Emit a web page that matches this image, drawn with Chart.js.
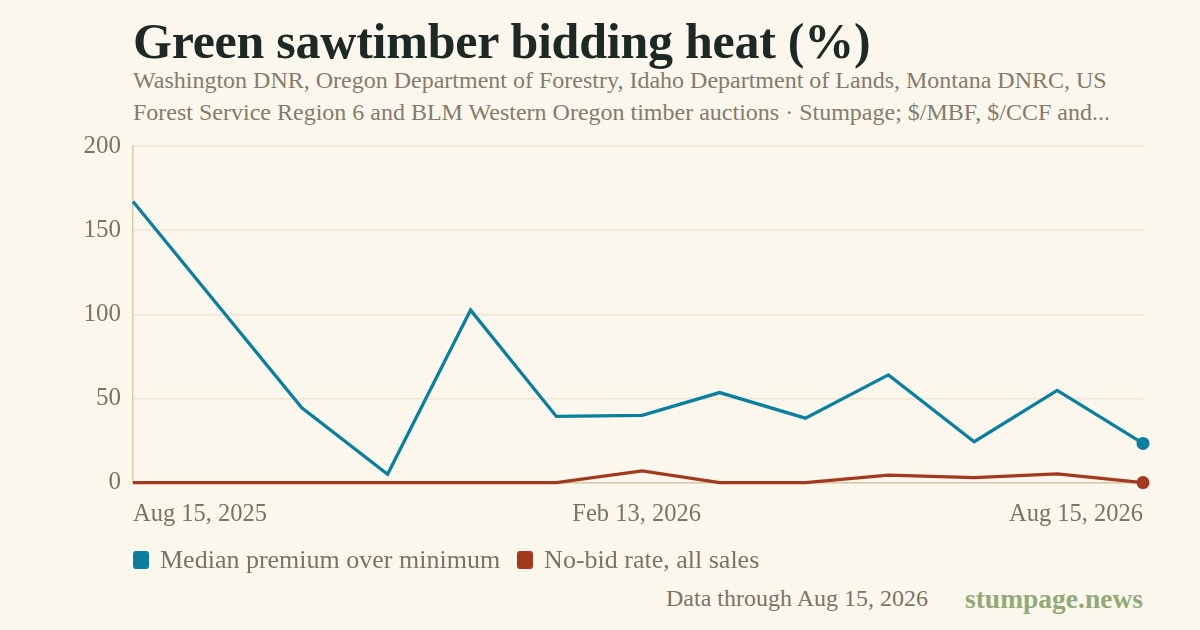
<!DOCTYPE html>
<html><head><meta charset="utf-8">
<script src="https://cdn.jsdelivr.net/npm/chart.js@4.4.1/dist/chart.umd.min.js"></script>
<style>
html,body{margin:0;padding:0;background:#fbf7ed;}
body{width:1200px;height:630px;position:relative;overflow:hidden;font-family:"Liberation Serif",serif;}
#title{position:absolute;left:133px;top:12px;font-size:50px;font-weight:bold;color:#1d2924;white-space:nowrap;letter-spacing:-0.25px;}
#sub{position:absolute;left:133px;top:64px;font-size:24px;line-height:32px;color:#857b6b;width:1000px;}
#wrap{position:absolute;left:0;top:119px;width:1200px;height:431px;}
#legend{position:absolute;left:133px;top:545px;display:flex;align-items:center;font-size:26px;color:#7d7363;white-space:nowrap;}
.item{display:flex;align-items:center;margin-right:17px;}
.sw{width:16px;height:18px;border-radius:3px;margin-right:11px;}
#foot1{position:absolute;right:272px;top:585px;font-size:24px;color:#7d7363;white-space:nowrap;}
#foot2{position:absolute;right:57px;top:583px;font-size:27.5px;font-weight:bold;color:#93aa78;white-space:nowrap;}
</style></head><body>
<div id="title">Green sawtimber bidding heat (%)</div>
<div id="sub">Washington DNR, Oregon Department of Forestry, Idaho Department of Lands, Montana DNRC, US Forest Service Region 6 and BLM Western Oregon timber auctions · Stumpage; $/MBF, $/CCF and...</div>
<div id="wrap"><canvas id="c"></canvas></div>
<div id="legend"></div>
<div id="foot1">Data through Aug 15, 2026</div>
<div id="foot2">stumpage.news</div>
<script>
const dates = ["2025-08-15","2025-10-15","2025-11-15","2025-12-15","2026-01-15","2026-02-15","2026-03-15","2026-04-15","2026-05-15","2026-06-15","2026-07-15","2026-08-15"];
const medianPremium = [167, 44.5, 5, 102.5, 39.3, 40, 53.5, 38.3, 64, 24.3, 54.8, 23.3];
const noBidRate = [0, 0, 0, 0, 0, 7, 0, 0, 4.4, 3, 5.2, 0];
const seriesNames = ["Median premium over minimum", "No-bid rate, all sales"];
const xTickDates = ["2025-08-15","2026-02-13","2026-08-15"];
const xTickLabels = ["Aug 15, 2025","Feb 13, 2026","Aug 15, 2026"];
const yTicks = [0, 50, 100, 150, 200];

const t0 = Date.UTC(2025,7,15);
const dayOf = s => { const [y,m,d]=s.split("-").map(Number); return (Date.UTC(y,m-1,d)-t0)/86400000; };
const xs = dates.map(dayOf);
const tickDays = xTickDates.map(dayOf);
const colors = ["#0b7fa0", "#a3391d"];
const lastOnly = (n, r) => Array.from({length:n}, (_,i)=> i===n-1 ? r : 0);

const leg = document.getElementById("legend");
seriesNames.forEach((n,i)=>{
  const it = document.createElement("div"); it.className="item";
  const sw = document.createElement("span"); sw.className="sw"; sw.style.background=colors[i];
  const tx = document.createElement("span"); tx.textContent=n;
  it.appendChild(sw); it.appendChild(tx); leg.appendChild(it);
});

const mk = (vals, i) => ({label: seriesNames[i], data: xs.map((x,k)=>({x, y: vals[k]})), borderColor: colors[i], backgroundColor: colors[i], borderWidth: 3.3, pointRadius: lastOnly(xs.length,6.5), pointHoverRadius:0, pointBorderWidth:0, tension:0, clip: false});

new Chart(document.getElementById("c"), {
  type: "line",
  data: { datasets: [ mk(medianPremium,0), mk(noBidRate,1) ] },
  options: {
    responsive: true, maintainAspectRatio: false, animation: false,
    layout: {padding: {left: 0, right: 57, top: 16, bottom: 4}},
    plugins: { legend: {display: false}, tooltip: {enabled: false} },
    scales: {
      x: {type: "linear", min: 0, max: 365,
        afterBuildTicks: s => { s.ticks = tickDays.map(v=>({value:v})); },
        ticks: {align: "inner", maxRotation: 0, autoSkip: false, color: "#7d7363", font: {family: "Liberation Serif", size: 24.5}, padding: 17,
          callback: (v) => { const i = tickDays.indexOf(v); return i>=0 ? xTickLabels[i] : ""; }},
        grid: {display: false, drawTicks: false},
        border: {display: true, color: "#d7caa8", width: 1.5}
      },
      y: {min: 0, max: 200,
        afterBuildTicks: s => { s.ticks = yTicks.map(v=>({value:v})); },
        afterFit: s => { s.width = 133; },
        ticks: {color: "#7d7363", font: {family: "Liberation Serif", size: 25}, padding: 12},
        grid: {color: "#efe6d4", lineWidth: 1.5, drawTicks: false},
        border: {display: true, color: "#d7caa8", width: 1.5}
      }
    }
  }
});
</script>
</body></html>
